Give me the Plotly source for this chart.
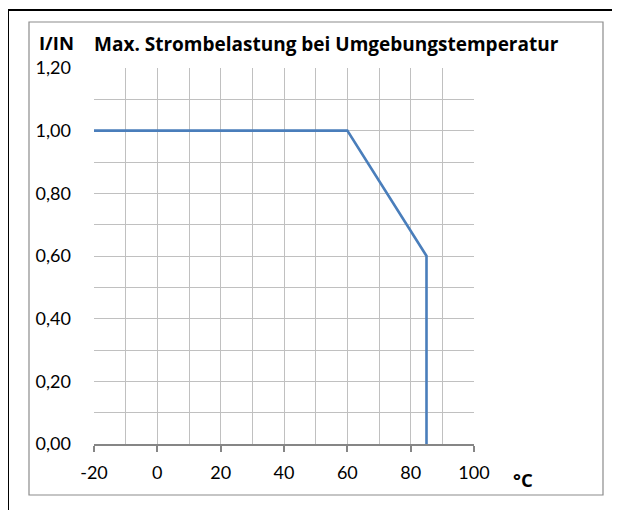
import plotly.graph_objects as go

temps = [-20, 60, 85, 85]
load = [1.00, 1.00, 0.60, 0.00]
x_ticks = [-20, 0, 20, 40, 60, 80, 100]
y_ticks = [0.0, 0.2, 0.4, 0.6, 0.8, 1.0, 1.2]
y_tick_text = ["0,00", "0,20", "0,40", "0,60", "0,80", "1,00", "1,20"]
title_text = "Max. Strombelastung bei Umgebungstemperatur"
y_label = "I/IN"
x_label = "°C"

FONT = "Lato"
BFONT = "Open Sans"
W, H = 620, 510
OFF = 8  # page body margin
L, R, T, B = 94 - OFF, 474 - OFF, 68 - OFF, 444 - OFF
pw, ph = R - L, B - T

def px(x):
    return (x - OFF - L) / pw

def py(y):
    return (B - (y - OFF)) / ph

fig = go.Figure()
fig.add_trace(go.Scatter(x=temps, y=load, mode="lines",
                         line=dict(color="#4a7ebb", width=2.6),
                         showlegend=False, hoverinfo="skip"))

grid = "#c0c0c0"
fig.update_xaxes(range=[-20, 100], tickvals=x_ticks, ticktext=[str(v) for v in x_ticks],
                 showgrid=True, gridcolor=grid, gridwidth=1.3,
                 minor=dict(dtick=10, showgrid=True, gridcolor=grid, gridwidth=1.3, ticks=""),
                 showline=True, linecolor="#868686", linewidth=1.5,
                 ticks="outside", ticklen=6, tickcolor="#868686", tickwidth=1.5,
                 ticklabelstandoff=6,
                 tickfont=dict(family=FONT, size=18, color="#000"), zeroline=False,
                 fixedrange=True)
fig.update_yaxes(range=[0, 1.2], tickvals=y_ticks, ticktext=y_tick_text,
                 showgrid=True, gridcolor=grid, gridwidth=1.3,
                 minor=dict(dtick=0.1, showgrid=True, gridcolor=grid, gridwidth=1.3, ticks=""),
                 showline=False, ticks="", ticklabelstandoff=22,
                 tickfont=dict(family=FONT, size=18, color="#000"), zeroline=False,
                 fixedrange=True)

shapes = [
    dict(type="rect", xref="paper", yref="paper",
         x0=px(8), x1=px(660), y0=py(560), y1=py(10),
         line=dict(color="#000", width=2), fillcolor="rgba(0,0,0,0)", layer="below"),
    dict(type="rect", xref="paper", yref="paper",
         x0=px(29), x1=px(603), y0=py(495), y1=py(22),
         line=dict(color="#8c8c8c", width=1.2), fillcolor="rgba(0,0,0,0)", layer="below"),
]

annotations = [
    dict(text="<b>%s</b>" % title_text, xref="paper", yref="paper",
         x=px(92), y=py(44), xanchor="left", yanchor="middle", showarrow=False,
         font=dict(family=BFONT, size=19, color="#000")),
    dict(text="<b>%s</b>" % y_label, xref="paper", yref="paper",
         x=px(56), y=py(42), xanchor="center", yanchor="middle", showarrow=False,
         font=dict(family=BFONT, size=18.5, color="#000")),
    dict(text="<b>%s</b>" % x_label, xref="paper", yref="paper",
         x=px(523), y=py(479), xanchor="center", yanchor="middle", showarrow=False,
         font=dict(family=BFONT, size=18.5, color="#000")),
]

fig.update_layout(width=W, height=H, margin=dict(l=L, r=W - R, t=T, b=H - B),
                  paper_bgcolor="#fff", plot_bgcolor="#fff",
                  shapes=shapes, annotations=annotations)
fig.write_html("out.html")
